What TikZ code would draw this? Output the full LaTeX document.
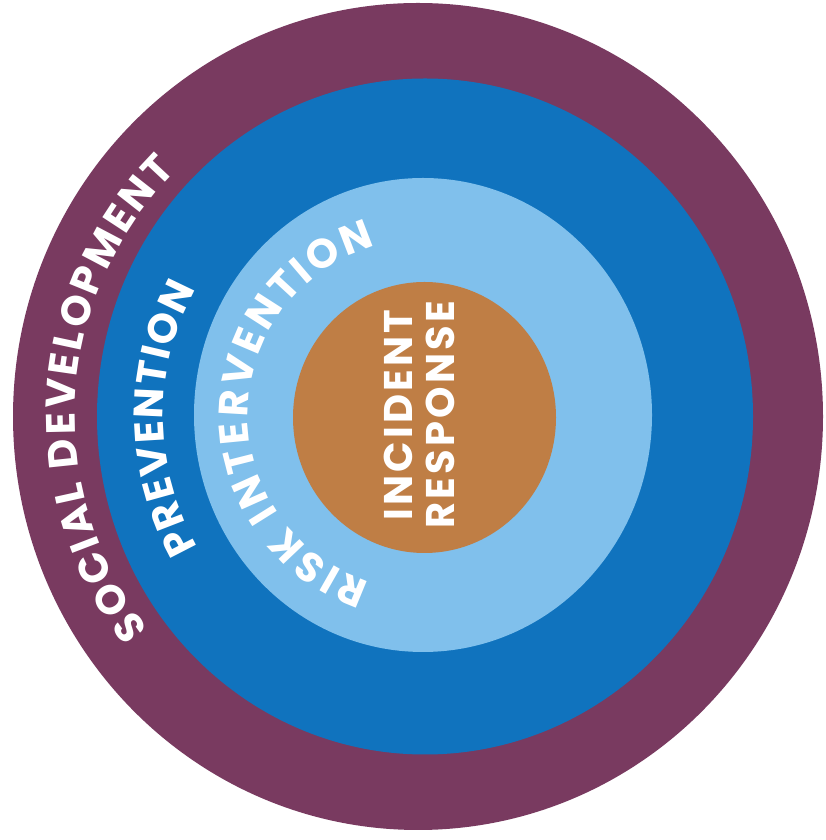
\documentclass[tikz,border=0pt]{standalone}
\usepackage{fontspec}
\setmainfont{Poppins}
\usetikzlibrary{decorations.text}
\definecolor{ringpurple}{HTML}{793A60}
\definecolor{ringblue}{HTML}{1073BE}
\definecolor{ringlight}{HTML}{80C0EC}
\definecolor{coreorange}{HTML}{BF7E45}
\newcommand{\ringfont}{\bfseries\fontsize{41}{48}\selectfont}
\newcommand{\corefont}{\bfseries\fontsize{40}{40}\selectfont\addfontfeature{LetterSpace=8}}
\tikzset{
  ringtext/.style={decorate, decoration={text along path, text align={fit to path}, text color=white, text={|\ringfont|#1}}}
}
\begin{document}
\begin{tikzpicture}[x=1pt,y=1pt]
\useasboundingbox (0,0) rectangle (825,840);
\fill[white] (0,0) rectangle (825,840);
\fill[ringpurple] (418,423.5) ellipse [x radius=405, y radius=413.5];
\fill[ringblue] (425,423.5) ellipse [x radius=328, y radius=338];
\fill[ringlight] (423,425) ellipse [x radius=229, y radius=237];
\fill[coreorange] (424.5,422.5) ellipse [x radius=131.5, y radius=135.5];
\coordinate (c1) at (421,424);
\coordinate (c2) at (425,424);
\coordinate (c3) at (424,425);
\path[ringtext={SOCIAL DEVELOPMENT}] ([shift={(218:346)}]c1) arc[start angle=218, end angle=135, radius=346];
\path[ringtext={PREVENTION}] ([shift={(210:262)}]c2) arc[start angle=210, end angle=151, radius=262];
\path[ringtext={RISK INTERVENTION}] ([shift={(252:176)}]c3) arc[start angle=252, end angle=106, radius=176];
\node[rotate=90, text=white, align=center, font=\corefont, inner sep=0pt] (core) at (419,425) {INCIDENT\\[2pt]RESPONSE};
\end{tikzpicture}
\end{document}
